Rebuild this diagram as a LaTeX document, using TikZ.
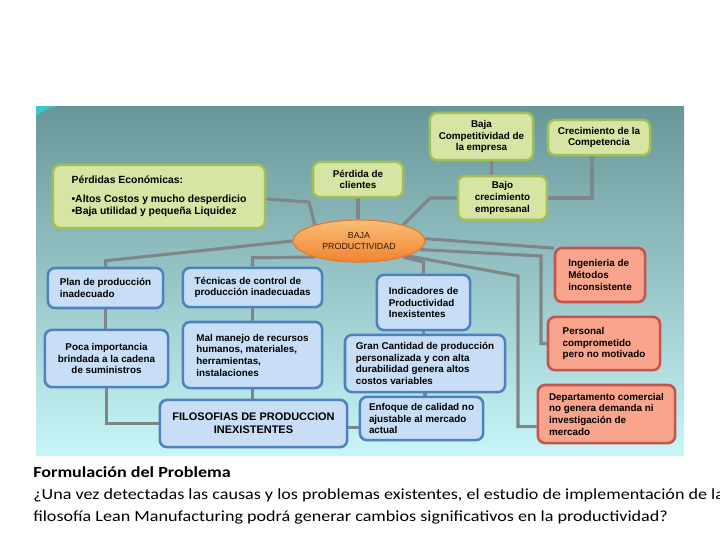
\documentclass[tikz,border=0pt]{standalone}
\usepackage{fontspec}
\setmainfont{Liberation Sans}
\newfontfamily\capfont[FakeStretch=1.17]{Carlito}
\usetikzlibrary{
    positioning,
    shapes.geometric,
    backgrounds
}
\newcommand{\boxfont}{\fontsize{7}{8.3}\selectfont\bfseries}
\tikzset{
  gblock/.style = {draw=edgeGreen, fill=fillGreen, line width=1.8pt,
                   rounded corners=5pt, align=center, font=\boxfont, inner sep=2pt},
  bblock/.style = {draw=edgeBlue, fill=fillBlue, line width=1.8pt,
                   rounded corners=5pt, align=center, font=\boxfont, inner sep=2pt},
  rblock/.style = {draw=edgeRed, fill=fillRed, line width=1.8pt,
                   rounded corners=5pt, align=left, font=\boxfont, inner sep=2pt},
  prodell/.style = {ellipse, draw=ellEdge, line width=0.8pt, top color=ellTop,
                    bottom color=ellBottom, align=center, inner sep=0pt,
                    font=\fontsize{6.3}{7.6}\selectfont, text=textBrown},
  conn/.style   = {draw=lineGray, line width=2.2pt}
}
\definecolor{fillGreen}{RGB}{214,228,164}
\definecolor{edgeGreen}{RGB}{160,192,84}
\definecolor{fillBlue}{RGB}{200,221,246}
\definecolor{edgeBlue}{RGB}{79,129,189}
\definecolor{fillRed}{RGB}{249,164,140}
\definecolor{edgeRed}{RGB}{196,84,78}
\definecolor{lineGray}{RGB}{126,134,137}
\definecolor{bgTop}{RGB}{104,150,153}
\definecolor{bgBottom}{RGB}{200,245,247}
\definecolor{ellTop}{RGB}{250,190,120}
\definecolor{ellBottom}{RGB}{240,132,48}
\definecolor{ellEdge}{RGB}{226,122,42}
\definecolor{textBrown}{RGB}{50,25,10}
\definecolor{cornerCyan}{RGB}{64,198,200}

\begin{document}
\begin{tikzpicture}[x=0.025cm, y=-0.025cm]
  \useasboundingbox (0,0) rectangle (720,540);
  \begin{scope}[on background layer]
    \fill[white] (0,0) rectangle (720,540);
    \shade[top color=bgTop, bottom color=bgBottom] (36,106) rectangle (684,455);
    \fill[cornerCyan] (36,106) -- (58,106) .. controls (48,108) and (40,112) .. (36,117) -- cycle;
  \end{scope}

  \node[gblock, minimum width=2.58cm, minimum height=1.18cm] (bajacomp) at (481.5,136.5)
       {Baja\\Competitividad de\\la empresa};
  \node[gblock, minimum width=2.55cm, minimum height=0.88cm] (crecomp) at (599,137.5)
       {Crecimiento de la\\Competencia};
  \node[gblock, minimum width=2.25cm, minimum height=0.88cm] (perdcli) at (358,179.5)
       {Pérdida de\\clientes};
  \node[gblock, minimum width=2.22cm, minimum height=1.10cm] (bajocrec) at (502.5,198)
       {Bajo\\crecimiento\\empresanal};
  \node[gblock, align=left, minimum width=5.3cm, minimum height=1.58cm,
        font=\fontsize{7.4}{8.6}\selectfont\bfseries] (perdeco) at (159,196.5)
       {Pérdidas Económicas:\\[5pt]•Altos Costos y mucho desperdicio\\•Baja utilidad y pequeña Liquidez};

  \node[prodell, minimum width=3.3cm, minimum height=1.05cm] (prod) at (359,241)
       {BAJA\\PRODUCTIVIDAD};

  \node[bblock, align=left, minimum width=2.88cm, minimum height=1.0cm] (plan) at (105.5,288)
       {Plan de producción\\inadecuado};
  \node[bblock, align=left, minimum width=3.48cm, minimum height=0.98cm] (tecnicas) at (252.5,287.5)
       {Técnicas de control de\\producción inadecuadas};
  \node[bblock, align=left, minimum width=2.33cm, minimum height=1.38cm] (indic) at (423.5,302.5)
       {Indicadores de\\Productividad\\Inexistentes};
  \node[bblock, minimum width=3.08cm, minimum height=1.43cm] (poca) at (106.5,358.5)
       {Poca importancia\\brindada a la cadena\\de suministros};
  \node[bblock, align=left, minimum width=3.48cm, minimum height=1.65cm] (malmanejo) at (252.5,355)
       {Mal manejo de recursos\\humanos, materiales,\\herramientas,\\instalaciones};
  \node[bblock, align=left, minimum width=4.0cm, minimum height=1.43cm] (gran) at (425,363.5)
       {Gran Cantidad de producción\\personalizada  y con alta\\durabilidad genera altos\\costos variables};
  \node[bblock, minimum width=4.68cm, minimum height=1.18cm,
        font=\fontsize{7.8}{9.4}\selectfont\bfseries] (filos) at (253.5,423.5)
       {FILOSOFIAS DE PRODUCCION\\INEXISTENTES};
  \node[bblock, align=left, minimum width=3.08cm, minimum height=1.08cm] (enfoque) at (421.5,418.5)
       {Enfoque de calidad no\\ajustable al mercado\\actual};

  \node[rblock, minimum width=2.25cm, minimum height=1.35cm] (ingen) at (600,275)
       {Ingenieria de\\Métodos\\inconsistente};
  \node[rblock, minimum width=2.8cm, minimum height=1.33cm] (personal) at (604,343.5)
       {Personal\\comprometido\\pero no motivado};
  \node[rblock, minimum width=3.43cm, minimum height=1.45cm] (depto) at (606.5,414)
       {Departamento comercial\\no genera demanda ni\\investigación de\\mercado};

  \node[anchor=north west, inner sep=0pt, align=left,
        font=\capfont\fontsize{11}{15.6}\selectfont] (caption) at (33,466)
       {\textbf{Formulación del Problema}\\
        ¿Una vez detectadas las causas y los problemas existentes, el estudio de implementación de la\\
        filosofía Lean Manufacturing podrá generar cambios significativos en la productividad?};

  \begin{scope}[on background layer]
    \draw[conn] (perdeco.east |- 0,199) -- (309,202) -- (prod.160);
    \draw[conn] (perdcli.south) -- (perdcli.south |- prod.north);
    \draw[conn] (bajocrec.west) -- (430,198) -- (prod.20);
    \draw[conn] ([xshift=7.4pt]bajacomp.south) -- ([xshift=7.4pt]bajacomp.south |- bajocrec.north);
    \draw[conn] ([xshift=-5pt]crecomp.south) |- (bajocrec.east);
    \draw[conn] (plan.north) -- ++(0,-6) -- (prod.west);
    \draw[conn] (tecnicas.north) -- ++(0,-9) -- (prod.200);
    \draw[conn] (prod.340) -- (423.5,262) -- (indic.north);
    \draw[conn] (prod.2) -- ([yshift=-1pt]ingen.north west);
    \draw[conn] (prod.352) -- (541,256) |- (personal.west);
    \draw[conn] (prod.343) -- (518,276) |- ([yshift=-9pt]depto.west);
    \draw[conn] (plan.south) -- (plan.south |- poca.north);
    \draw[conn] (tecnicas.south) -- (malmanejo.north);
    \draw[conn] (malmanejo.south) -- (malmanejo.south |- filos.north);
    \draw[conn] (poca.south) |- (filos.west);
    \draw[conn] ([yshift=-3pt]filos.east) -- ([yshift=-3pt]filos.east -| enfoque.west);
    \draw[conn] (indic.south) -- (indic.south |- gran.north);
    \draw[conn] (gran.south) -- (gran.south |- enfoque.north);
  \end{scope}
\end{tikzpicture}
\end{document}
